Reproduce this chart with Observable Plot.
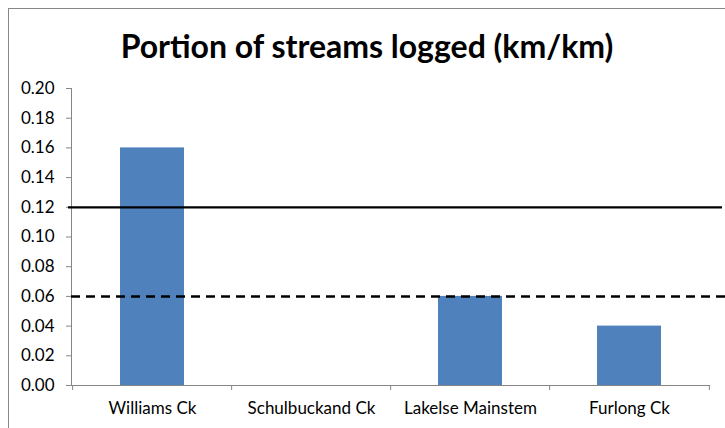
<!DOCTYPE html>
<html>
<head>
<meta charset="utf-8">
<script src="https://cdn.jsdelivr.net/npm/d3@7"></script>
<script src="https://cdn.jsdelivr.net/npm/@observablehq/plot@0.6"></script>
<style>
  html, body { margin: 0; padding: 0; background: #fff; overflow: hidden; }
  #wrap { position: relative; width: 725px; height: 428px; overflow: hidden; font-family: Lato, "Open Sans", sans-serif; }
  #frame { position: absolute; left: 8px; top: 8px; width: 800px; height: 500px; border: 1px solid #878787; box-sizing: border-box; }
  #title { position: absolute; left: 8px; top: 0; width: 718px; height: 76px; line-height: 92px; text-align: center; font-size: 32px; font-weight: 700; color: #000; }
  #chart { position: absolute; left: 0; top: 76px; }
</style>
</head>
<body>
<div id="wrap">
  <div id="frame"></div>
  <div id="title">Portion of streams logged (km/km)</div>
  <div id="chart"></div>
</div>
<script>
const categories = ["Williams Ck", "Schulbuckand Ck", "Lakelse Mainstem", "Furlong Ck"];
const values = [0.16, 0, 0.06, 0.04];
const yTicks = [0, 0.02, 0.04, 0.06, 0.08, 0.10, 0.12, 0.14, 0.16, 0.18, 0.20];
const solidRef = [0.12];
const dashedRef = [0.06];

const data = categories.map((c, i) => ({category: c, value: values[i]}));

const W = 725, H = 352, mL = 71, mR = 15, mT = 12, mB = 43;
const step = (W - mL - mR) / categories.length;

const chart = Plot.plot({
  width: W,
  height: H,
  marginLeft: mL,
  marginRight: mR,
  marginTop: mT,
  marginBottom: mB,
  style: {fontFamily: "Lato, 'Open Sans', sans-serif", fontSize: "17px", color: "#000", background: "transparent"},
  x: {domain: categories, paddingInner: 0.6, paddingOuter: 0.3, label: null},
  y: {domain: [0, 0.2], label: null},
  marks: [
    Plot.barY(data, {x: "category", y: "value", fill: "#4f81bd"}),
    Plot.frame({anchor: "left", stroke: "#868686"}),
    Plot.ruleY([0], {stroke: "#868686"}),
    Plot.axisY({ticks: yTicks, tickFormat: d3.format(".2f"), tickSize: 5, tickPadding: 12, stroke: "#868686", fontSize: 17, fill: "#000"}),
    Plot.axisX({tickSize: 0, tickPadding: 16, fontSize: 17, fill: "#000"}),
    Plot.ruleX(categories, {x: d => d, y1: 0, y2: 0, insetBottom: -5, dx: -step / 2, stroke: "#868686"}),
    Plot.ruleX(categories.slice(-1), {x: d => d, y1: 0, y2: 0, insetBottom: -5, dx: step / 2, stroke: "#868686"}),
    Plot.ruleY(solidRef, {stroke: "#000", strokeWidth: 2.2, insetLeft: -3, insetRight: -12}),
    Plot.ruleY(dashedRef, {stroke: "#000", strokeWidth: 2.5, strokeDasharray: "9,6", insetRight: -20})
  ]
});
document.getElementById("chart").appendChild(chart);
</script>
</body>
</html>
